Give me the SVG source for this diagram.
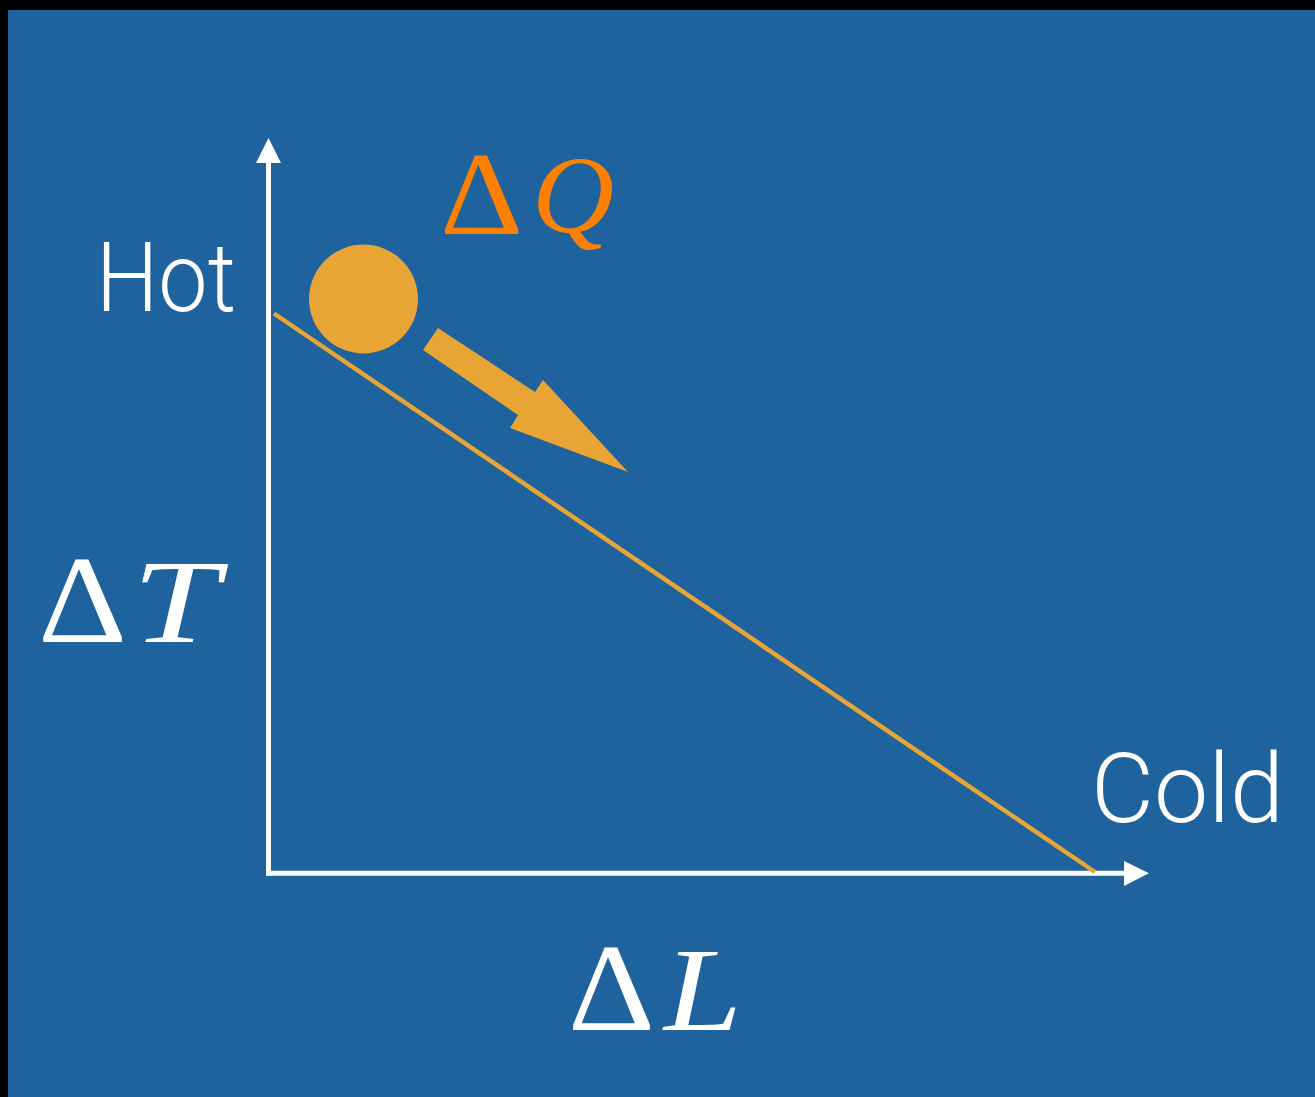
<svg xmlns="http://www.w3.org/2000/svg" width="1315" height="1097" viewBox="0 0 1315 1097">
  <style>
    .axis { stroke: #ffffff; stroke-width: 5; fill: none; }
    .head { fill: #ffffff; }
    .slope { stroke: #E8A535; stroke-width: 4.5; fill: none; }
    .ball { fill: #E8A535; }
    .label { font-family: Roboto, "Liberation Sans", Arial, sans-serif; font-weight: 300; fill: #ffffff; }
    .math { font-family: "Liberation Serif", "Times New Roman", serif; fill: #ffffff; }
    .mathi { font-family: "Liberation Serif", "Times New Roman", serif; font-style: italic; fill: #ffffff; }
    .orange { fill: #FF8000; }
  </style>
  <rect x="0" y="0" width="1315" height="1097" fill="#000000"/>
  <rect x="8" y="10" width="1307" height="1087" fill="#1E629E"/>

  <g id="connectors">
    <line class="axis" x1="268.5" y1="160" x2="268.5" y2="875.5"/>
    <polygon class="head" points="268.5,138 256,163 281,163"/>
    <line class="axis" x1="266" y1="873.3" x2="1126" y2="873.3"/>
    <polygon class="head" points="1149,873.3 1124,861 1124,886"/>
    <line class="slope" x1="274" y1="313.5" x2="1095" y2="872"/>
  </g>

  <g id="ball">
    <circle class="ball" cx="363.5" cy="299" r="54.5"/>
  </g>

  <g id="flow-arrow">
    <polygon class="ball" points="438,328 535,392 543,380 628,472 510,428 518,415 423,350"/>
  </g>

  <g id="hot-label">
    <text class="label" x="96" y="311" font-size="97" textLength="140" lengthAdjust="spacingAndGlyphs">Hot</text>
  </g>
  <g id="cold-label">
    <text class="label" x="1091" y="822" font-size="96" textLength="193" lengthAdjust="spacingAndGlyphs">Cold</text>
  </g>

  <g id="delta-q">
    <text class="math orange" x="440" y="234" font-size="118" textLength="83" lengthAdjust="spacingAndGlyphs">Δ</text>
    <text class="mathi orange" x="532" y="232" font-size="110" textLength="82" lengthAdjust="spacingAndGlyphs">Q</text>
  </g>

  <g id="delta-t">
    <text class="math" x="38" y="642" font-size="124" textLength="89" lengthAdjust="spacingAndGlyphs">Δ</text>
    <text class="mathi" x="132" y="642" font-size="118" textLength="87" lengthAdjust="spacingAndGlyphs">T</text>
  </g>

  <g id="delta-l">
    <text class="math" x="568" y="1030" font-size="124" textLength="87" lengthAdjust="spacingAndGlyphs">Δ</text>
    <text class="mathi" x="664" y="1030" font-size="118" textLength="78" lengthAdjust="spacingAndGlyphs">L</text>
  </g>
</svg>
